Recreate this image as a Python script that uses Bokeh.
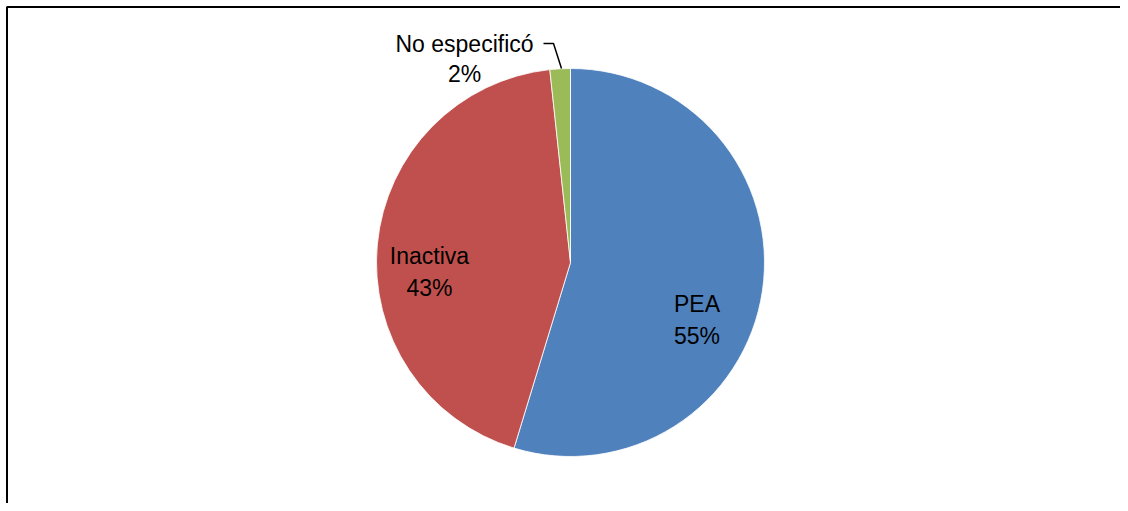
import math
from bokeh.plotting import figure
from bokeh.models import Range1d, ColumnDataSource
from bokeh.core.properties import value
from bokeh.embed import file_html
from bokeh.resources import INLINE

# ---- data ----
categories = ["PEA", "Inactiva", "No especificó"]
shares = [54.7, 43.6, 1.7]
pct_labels = ["55%", "43%", "2%"]
colors = ["#4F81BD", "#C0504D", "#9BBB59"]

# ---- layout (reference pixel coordinates, y measured from top) ----
W, H = 1120, 503
def Y(y_ref):
    return H - y_ref

cx, cy, R = 570, 262, 194
# label anchors: (x center, baseline of name, baseline of pct)
label_pos = [(696.5, 303, 335), (429, 255, 287), (464, 43, 73)]

p = figure(width=W, height=H, output_backend="svg", toolbar_location=None,
           x_range=Range1d(0, W), y_range=Range1d(0, H),
           min_border=0, outline_line_color=None)
p.axis.visible = False
p.grid.visible = False
p.background_fill_color = "white"
p.border_fill_color = "white"

total = sum(shares)
starts, ends = [], []
acc = 0.0
for s in shares:
    a0 = math.pi / 2 - 2 * math.pi * acc / total
    acc += s
    a1 = math.pi / 2 - 2 * math.pi * acc / total
    starts.append(a0)
    ends.append(a1)

src = ColumnDataSource(dict(start=starts, end=ends, color=colors, cat=categories))
p.wedge(x=cx, y=Y(cy), radius=R, radius_units="data", start_angle="start", end_angle="end",
        direction="clock", fill_color="color", line_color="white", line_width=0.8, source=src)

# leader line for the small slice
p.line(x=[543, 553, 561], y=[Y(43), Y(43), Y(68)], line_color="black", line_width=1.5)

names_x = [lp[0] for lp in label_pos]
p.text(x=names_x, y=[Y(lp[1]) for lp in label_pos], text=categories,
       text_align="center", text_baseline="alphabetic",
       text_font=value("Liberation Sans"), text_font_size="23px", text_color="black")
p.text(x=names_x, y=[Y(lp[2]) for lp in label_pos], text=pct_labels,
       text_align="center", text_baseline="alphabetic",
       text_font=value("Liberation Sans"), text_font_size="23px", text_color="black")

# chart border (left and top visible)
p.line(x=[6.5, 6.5, W + 5], y=[-5, Y(6.5), Y(6.5)], line_color="black", line_width=2)

open("out.html", "w").write(file_html(p, INLINE))
